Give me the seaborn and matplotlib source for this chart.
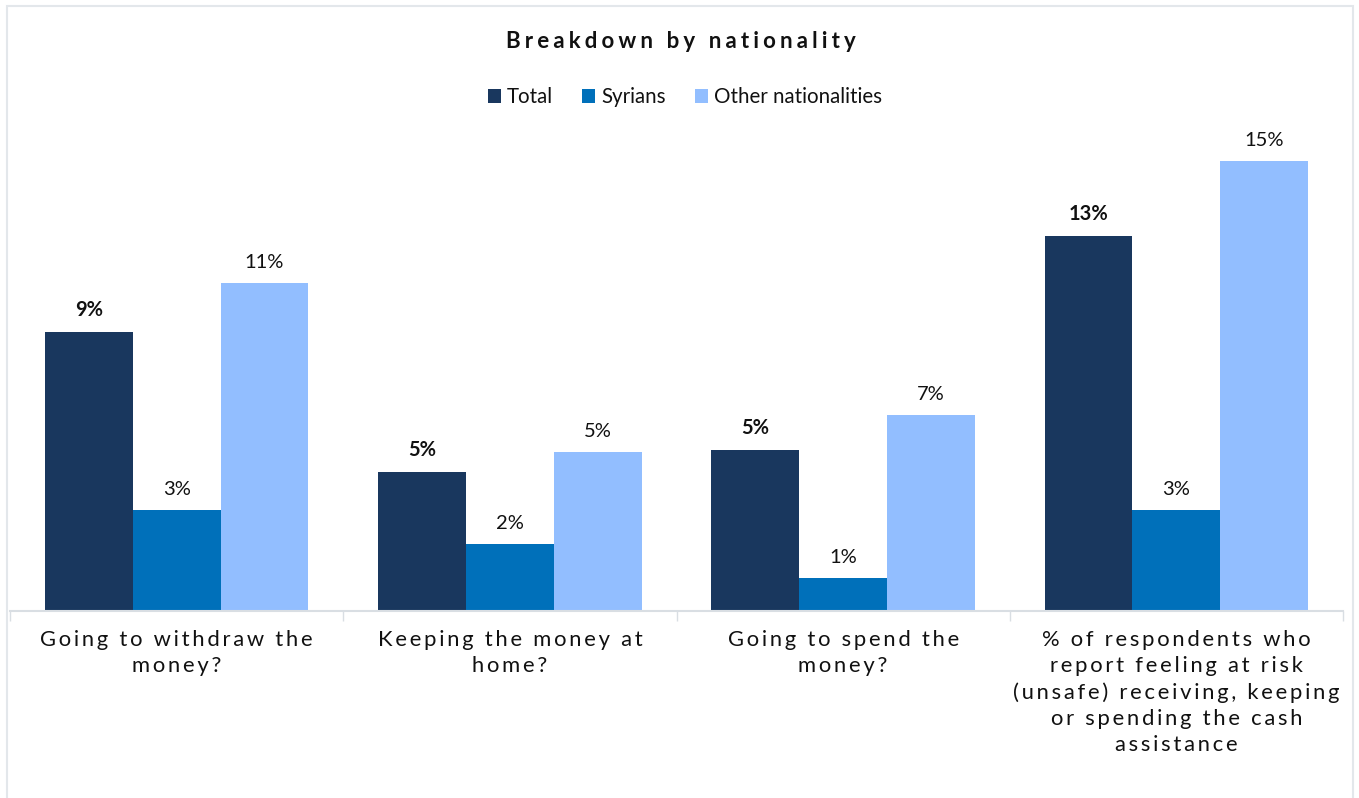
import math
import matplotlib
matplotlib.use("Agg")
import matplotlib.pyplot as plt
from matplotlib.patches import Rectangle
import pandas as pd
import seaborn as sns

# Survey results (% of respondents)
categories = [
    "Going to withdraw the\nmoney?",
    "Keeping the money at\nhome?",
    "Going to spend the\nmoney?",
    "% of respondents who\nreport feeling at risk\n(unsafe) receiving, keeping\nor spending the cash\nassistance",
]
series_names = ["Total", "Syrians", "Other nationalities"]
total = [9.3, 4.63, 5.37, 12.5]
syrians = [3.37, 2.23, 1.1, 3.37]
others = [10.93, 5.3, 6.53, 15.0]
colors = ["#19375E", "#0070BA", "#92BEFF"]

rows = []
for name, vals in zip(series_names, [total, syrians, others]):
    for cat, v in zip(categories, vals):
        rows.append({"category": cat, "group": name, "value": v})
df = pd.DataFrame(rows)

sns.set_theme(style="white")
plt.rcParams["font.family"] = ["Lato", "DejaVu Sans"]

W, H = 1359, 798
fig = plt.figure(figsize=(W / 100, H / 100), dpi=100)
ax = fig.add_axes([10 / W, (H - 611) / H, (1343 - 10) / W, (611 - 120) / H])

sns.barplot(data=df, x="category", y="value", hue="group", order=categories,
            hue_order=series_names, palette=colors, width=0.79, saturation=1,
            linewidth=0, ax=ax, legend=True)


def spaced(s, gap="\u2009"):
    return "\n".join(gap.join(list(line)) for line in s.split("\n"))


def pct(v):
    return f"{math.floor(v + 0.5)}%"


# value labels: bold for the total series
for cont, name in zip(ax.containers, series_names):
    for bar in cont:
        h = bar.get_height()
        ax.annotate(pct(h), (bar.get_x() + bar.get_width() / 2, h),
                    xytext=(0, 8.5), textcoords="offset points",
                    ha="center", va="bottom", fontsize=14.5,
                    fontweight="bold" if name == "Total" else "normal",
                    color="#111111")

ax.set_ylim(0, 16.37)
ax.set_xlim(-0.5, len(categories) - 0.5)
ax.set_xlabel("")
ax.set_ylabel("")
ax.set_yticks([])
ax.set_xticks(range(len(categories)))
ax.set_xticklabels([spaced(c) for c in categories], fontsize=15.8,
                   color="#111111", linespacing=1.37)
ax.set_xticks([i - 0.5 for i in range(len(categories) + 1)], minor=True)
ax.tick_params(axis="x", which="major", length=0, pad=14)
ax.tick_params(axis="x", which="minor", length=7, width=1, color="#D9DEE3",
               direction="out", bottom=True)
for s in ["top", "left", "right"]:
    ax.spines[s].set_visible(False)
ax.spines["bottom"].set_color("#D9DEE3")
ax.spines["bottom"].set_linewidth(1.5)

handles, labels = ax.get_legend_handles_labels()
ax.legend(handles, labels, loc="center", bbox_to_anchor=(685 / W, 1 - 97 / H),
          bbox_transform=fig.transFigure, ncol=3, frameon=False,
          handlelength=0.65, handleheight=0.65, handletextpad=0.3,
          columnspacing=1.4, fontsize=14.8, labelcolor="#111111")

fig.text(681 / W, 1 - 42 / H, spaced("Breakdown by nationality", "\u2009\u200a"),
         ha="center", va="center", fontsize=16, fontweight="bold",
         color="#111111")

# outer chart frame
fig.patches.append(Rectangle((7 / W, -0.01), (1353 - 7) / W, 1 - 6 / H + 0.01,
                             transform=fig.transFigure, fill=False,
                             edgecolor="#E3E7EB", linewidth=1.5))

fig.savefig("out.png", dpi=100, facecolor="white")
